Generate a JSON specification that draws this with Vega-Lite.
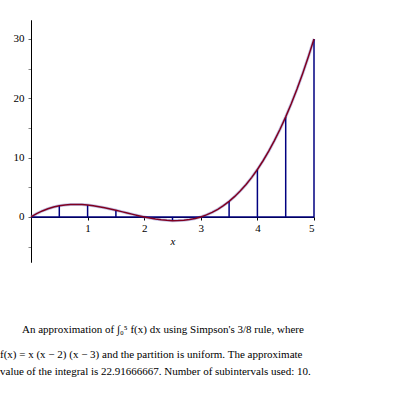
{
  "$schema": "https://vega.github.io/schema/vega-lite/v6.json",
  "width": 283,
  "height": 242,
  "autosize": "none",
  "padding": {"left": 31, "top": 20, "right": 81, "bottom": 133},
  "background": "white",
  "config": {"view": {"stroke": null}, "font": "Liberation Serif"},
  "datasets": {
    "curve": [
      {"x": 0, "y": 0}, {"x": 0.1, "y": 0.551}, {"x": 0.2, "y": 1.008}, {"x": 0.3, "y": 1.377}, {"x": 0.4, "y": 1.664},
      {"x": 0.5, "y": 1.875}, {"x": 0.6, "y": 2.016}, {"x": 0.7, "y": 2.093}, {"x": 0.8, "y": 2.112}, {"x": 0.9, "y": 2.079},
      {"x": 1.0, "y": 2}, {"x": 1.1, "y": 1.881}, {"x": 1.2, "y": 1.728}, {"x": 1.3, "y": 1.547}, {"x": 1.4, "y": 1.344},
      {"x": 1.5, "y": 1.125}, {"x": 1.6, "y": 0.896}, {"x": 1.7, "y": 0.663}, {"x": 1.8, "y": 0.432}, {"x": 1.9, "y": 0.209},
      {"x": 2.0, "y": 0}, {"x": 2.1, "y": -0.189}, {"x": 2.2, "y": -0.352}, {"x": 2.3, "y": -0.483}, {"x": 2.4, "y": -0.576},
      {"x": 2.5, "y": -0.625}, {"x": 2.6, "y": -0.624}, {"x": 2.7, "y": -0.567}, {"x": 2.8, "y": -0.448}, {"x": 2.9, "y": -0.261},
      {"x": 3.0, "y": 0}, {"x": 3.1, "y": 0.341}, {"x": 3.2, "y": 0.768}, {"x": 3.3, "y": 1.287}, {"x": 3.4, "y": 1.904},
      {"x": 3.5, "y": 2.625}, {"x": 3.6, "y": 3.456}, {"x": 3.7, "y": 4.403}, {"x": 3.8, "y": 5.472}, {"x": 3.9, "y": 6.669},
      {"x": 4.0, "y": 8}, {"x": 4.1, "y": 9.471}, {"x": 4.2, "y": 11.088}, {"x": 4.3, "y": 12.857}, {"x": 4.4, "y": 14.784},
      {"x": 4.5, "y": 16.875}, {"x": 4.6, "y": 19.136}, {"x": 4.7, "y": 21.573}, {"x": 4.8, "y": 24.192}, {"x": 4.9, "y": 27.001},
      {"x": 5.0, "y": 30}
    ],
    "partition": [
      {"x": 0.5, "y": 1.875}, {"x": 1.0, "y": 2}, {"x": 1.5, "y": 1.125}, {"x": 2.0, "y": 0}, {"x": 2.5, "y": -0.625},
      {"x": 3.0, "y": 0}, {"x": 3.5, "y": 2.625}, {"x": 4.0, "y": 8}, {"x": 4.5, "y": 16.875}, {"x": 5.0, "y": 30}
    ],
    "baseline": [{"x0": 0, "x1": 5, "y": 0}]
  },
  "title": {
    "text": "\u200b\u00a0\u00a0\u00a0\u00a0\u00a0\u00a0\u00a0\u00a0An approximation of \u222b\u2080\u2075 f(x) dx using Simpson's 3/8 rule, where",
    "subtitle": [
      "f(x) = x (x \u2212 2) (x \u2212 3) and the partition is uniform.  The approximate",
      "value of the integral is 22.91666667.  Number of subintervals used: 10."
    ],
    "orient": "bottom",
    "anchor": "start",
    "frame": "group",
    "dx": -31,
    "offset": 62,
    "font": "Liberation Serif",
    "fontSize": 11,
    "fontWeight": "normal",
    "color": "black",
    "subtitleFont": "Liberation Serif",
    "subtitleFontSize": 11,
    "subtitleColor": "black",
    "subtitlePadding": 14,
    "subtitleLineHeight": 17
  },
  "resolve": {"axis": {"y": "independent"}},
  "layer": [
    {
      "data": {"name": "curve"},
      "mark": {"type": "line", "color": "#8a8ad0", "strokeWidth": 3, "opacity": 0.5},
      "encoding": {
        "x": {"field": "x", "type": "quantitative", "scale": {"domain": [0, 5], "nice": false, "zero": false},
          "axis": {"orient": "bottom", "offset": -45, "values": [1, 2, 3, 4, 5], "format": "d", "tickSize": 3,
            "labelFont": "Liberation Serif", "labelFontSize": 11, "labelColor": "black", "labelPadding": 2,
            "domainColor": "black", "tickColor": "black", "grid": false,
            "title": "x", "titleFont": "Liberation Serif", "titleFontStyle": "italic", "titleFontWeight": "normal",
            "titleFontSize": 11, "titleColor": "black", "titlePadding": 2}},
        "y": {"field": "y", "type": "quantitative", "scale": {"domain": [-7.6, 33.2], "nice": false, "zero": false},
          "axis": {"orient": "left", "values": [0, 10, 20, 30], "tickSize": 3, "format": "d",
            "labelFont": "Liberation Serif", "labelFontSize": 11, "labelColor": "black", "labelPadding": 4,
            "domainColor": "black", "tickColor": "#666666", "grid": false, "title": null}}
      }
    },
    {
      "data": {"name": "baseline"},
      "mark": {"type": "rule", "color": "#000080", "strokeWidth": 1.5},
      "encoding": {
        "x": {"field": "x0", "type": "quantitative"},
        "x2": {"field": "x1"},
        "y": {"field": "y", "type": "quantitative",
          "axis": {"orient": "left", "values": [-5, 5, 15, 25], "tickSize": 3, "labels": false,
            "domainColor": "black", "tickColor": "#888888", "grid": false, "title": null}}
      }
    },
    {
      "data": {"name": "partition"},
      "mark": {"type": "rule", "color": "#000080", "strokeWidth": 1.5},
      "encoding": {
        "x": {"field": "x", "type": "quantitative"},
        "y": {"field": "y", "type": "quantitative", "axis": null},
        "y2": {"datum": 0}
      }
    },
    {
      "data": {"name": "curve"},
      "mark": {"type": "line", "color": "#800020", "strokeWidth": 1.5},
      "encoding": {
        "x": {"field": "x", "type": "quantitative"},
        "y": {"field": "y", "type": "quantitative", "axis": null}
      }
    }
  ]
}
